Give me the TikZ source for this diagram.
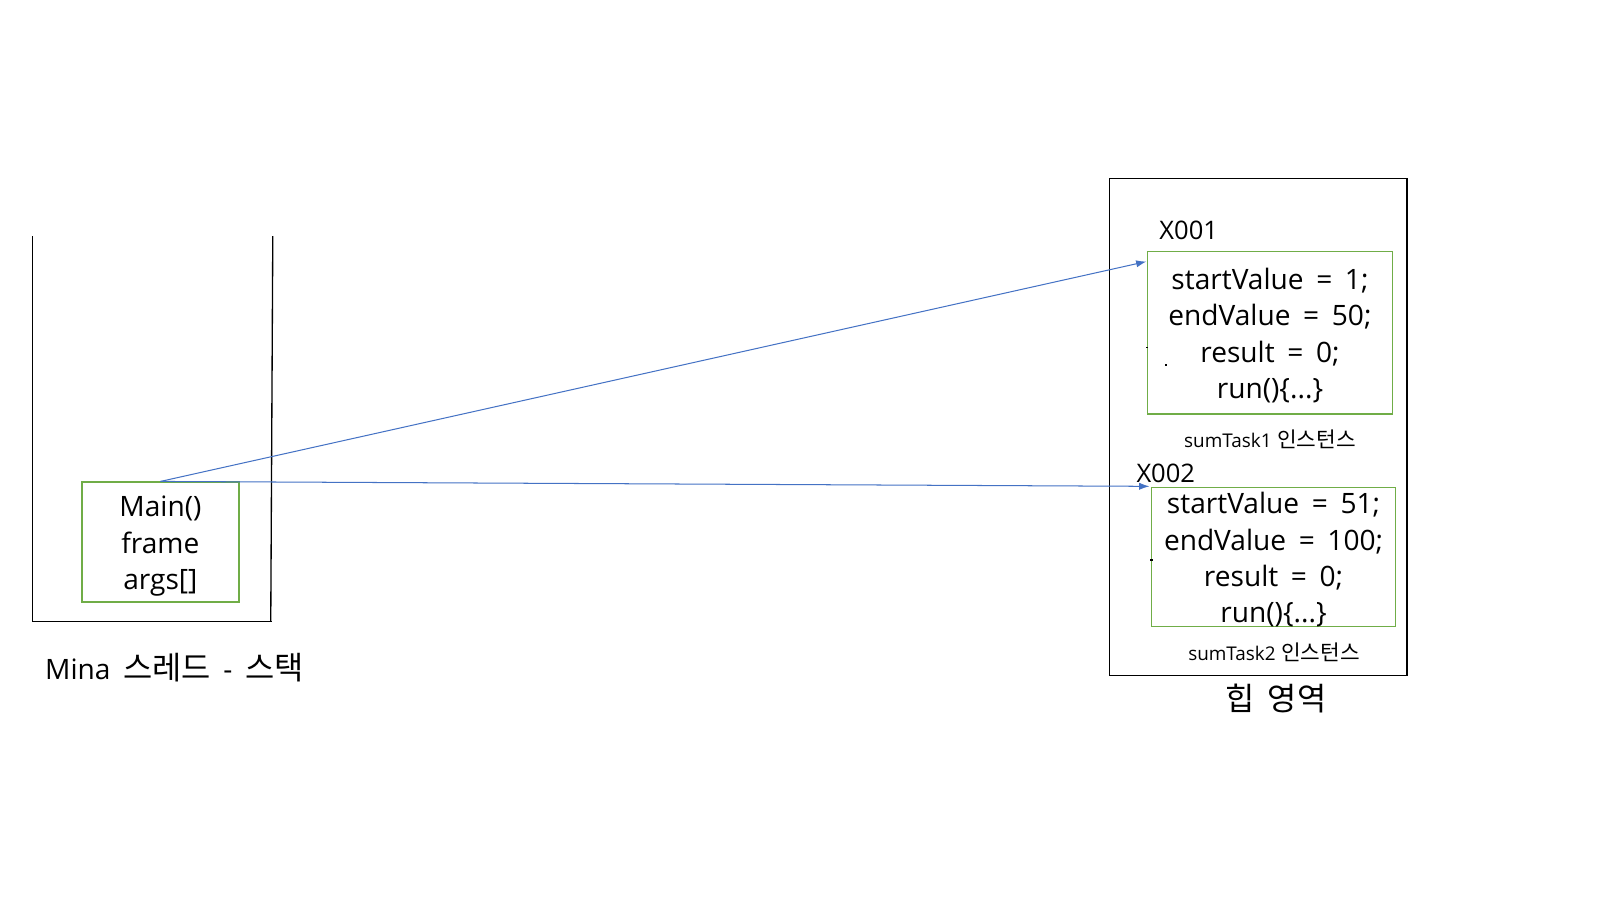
\documentclass[tikz,border=0pt]{standalone}
\usepackage{fontspec}
\setmainfont{Open Sans}
\newfontfamily\krfont[Scale=1.13]{Noto Sans CJK KR}
\newcommand\krtext[1]{{\krfont #1}}
\newcommand\bigfnt{\fontsize{27.5}{35.5}\selectfont\spaceskip=0.45em\relax}
\newcommand\smallfnt{\fontsize{18.5}{24}\selectfont\spaceskip=0.3em\relax}
\usetikzlibrary{arrows.meta,calc}
\definecolor{grn}{HTML}{70AD47}
\definecolor{blu}{HTML}{4472C4}
\tikzset{
  gbox/.style={draw=grn,line width=1.6pt,inner sep=0pt,minimum width=#1},
  bigtxt/.style={font=\bigfnt,align=center,inner sep=0pt},
  midtxt/.style={font=\fontsize{25}{30}\selectfont,inner sep=0pt},
  smalltxt/.style={font=\smallfnt,inner sep=0pt},
  ref/.style={draw=blu,line width=1pt,-{Latex[length=10pt,width=7pt]}},
  blk/.style={line width=1.3pt}
}
\begin{document}
\begin{tikzpicture}[x=1pt,y=-1pt]
\useasboundingbox (0,0) rectangle (1566,881);
% stack
\draw[blk] (32,231) -- (32,608) -- (266,608);
\draw[blk] (267,231) -- (265,608);
\node[gbox=154pt,minimum height=117pt] (main) at (157,530.5) {};
\node[bigtxt] (maintxt) at (157,534.5) {Main()\\frame\\args[]};
\node[bigtxt,anchor=west] (stackcap) at (44,653) {Mina \krtext{스레드} - \krtext{스택}};
% heap
\node[draw,blk,minimum width=291pt,minimum height=486pt,inner sep=0pt] (heap) at (1231.5,418) {};
\node[midtxt] (x1) at (1163.5,225) {X001};
\node[gbox=240pt,minimum height=159pt] (b1) at (1243,325.5) {};
\node[bigtxt] (b1txt) at (1243,328.5) {startValue = 1;\\endValue = 50;\\result = 0;\\run()\{...\}};
\node[smalltxt] (s1) at (1243,430) {sumTask1 \krtext{인스턴스}};
\node[midtxt] (x2) at (1141,463) {X002};
\node[gbox=239pt,minimum height=136pt] (b2) at (1246.5,545) {};
\node[bigtxt] (b2txt) at (1246.5,548) {startValue = 51;\\endValue = 100;\\result = 0;\\run()\{...\}};
\node[smalltxt] (s2) at (1247,638) {sumTask2 \krtext{인스턴스}};
\node[bigtxt] (heapcap) at (1249,684) {\krtext{힙 영역}};
% tiny marks
\fill (1121.5,339.5) rectangle (1123.5,341);
\fill (1140.5,356.5) rectangle (1142.5,358.5);
\fill (1126,547.5) rectangle (1128,549);
% references
\coordinate (t1) at (1122,256);
\coordinate (t2) at (1125,476);
\draw[ref] (main.north) -- (t1);
\draw[ref] (main.north) -- (t2);
\end{tikzpicture}
\end{document}
